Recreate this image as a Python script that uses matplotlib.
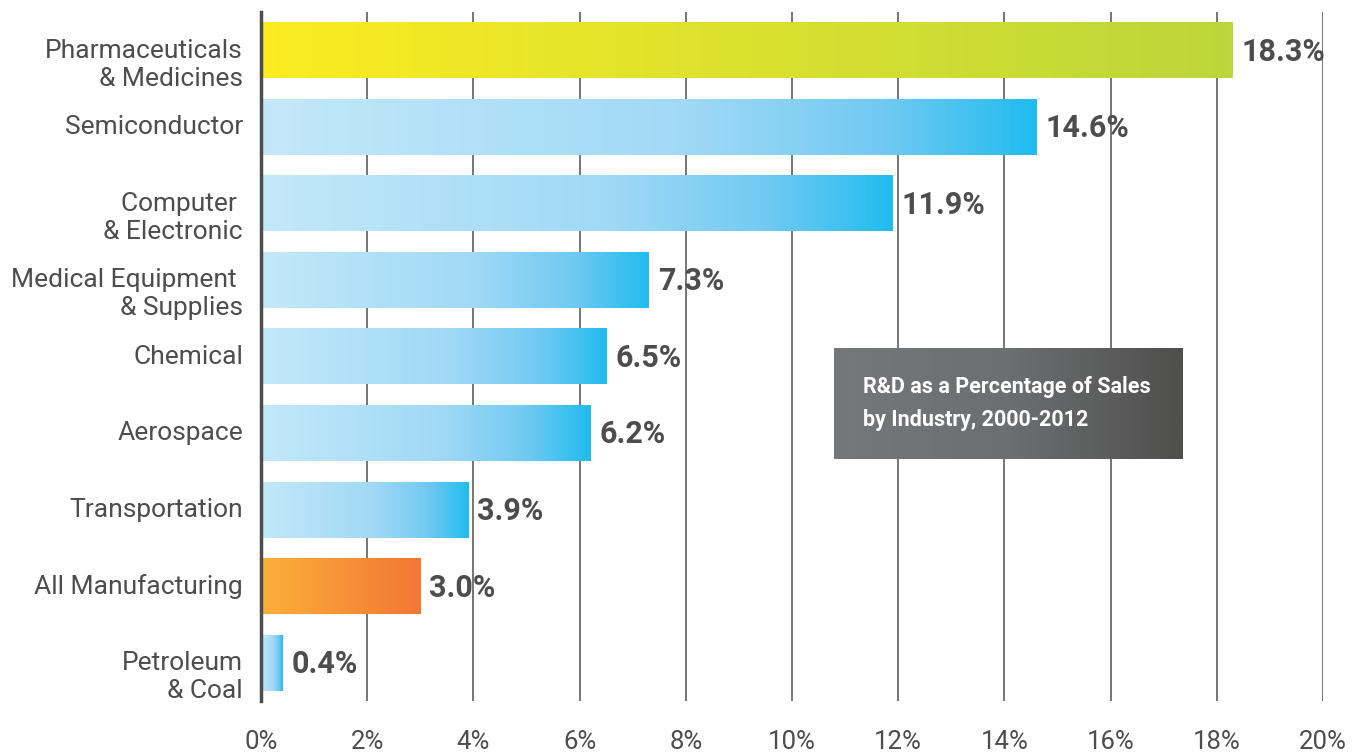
import numpy as np
import matplotlib
matplotlib.use("Agg")
import matplotlib.pyplot as plt
from matplotlib.colors import LinearSegmentedColormap
from matplotlib.transforms import blended_transform_factory, offset_copy

categories = ["Pharmaceuticals\n& Medicines", "Semiconductor", "Computer \n& Electronic",
              "Medical Equipment \n& Supplies", "Chemical", "Aerospace", "Transportation",
              "All Manufacturing", "Petroleum\n& Coal"]
values = [18.3, 14.6, 11.9, 7.3, 6.5, 6.2, 3.9, 3.0, 0.4]
value_labels = ["18.3%", "14.6%", "11.9%", "7.3%", "6.5%", "6.2%", "3.9%", "3.0%", "0.4%"]
groups = ["pharma", "blue", "blue", "blue", "blue", "blue", "blue", "orange", "blue"]
xticks = [0, 2, 4, 6, 8, 10, 12, 14, 16, 18, 20]
xtick_labels = ["0%", "2%", "4%", "6%", "8%", "10%", "12%", "14%", "16%", "18%", "20%"]
box_title = "R&D as a Percentage of Sales\nby Industry, 2000-2012"

cmaps = {
    "blue": LinearSegmentedColormap.from_list("b", [(0, "#c3e8f9"), (0.55, "#a0d9f6"),
                                                    (0.8, "#72caf2"), (1, "#22bcef")]),
    "pharma": LinearSegmentedColormap.from_list("p", ["#fcec21", "#dbe12e", "#bcd63b"]),
    "orange": LinearSegmentedColormap.from_list("o", ["#fbb03b", "#f37735"]),
}

TXT = "#4d4d4d"
plt.rcParams["font.family"] = ["Roboto", "DejaVu Sans"]

fig = plt.figure(figsize=(13.62, 7.55), dpi=100)
ax = fig.add_axes([0.1916, 0.0715, 0.7798, 0.9125])

y = np.arange(len(categories))
h = 0.73
bars = ax.barh(y, values, height=h, color="none", edgecolor="none", zorder=3)
grad = np.linspace(0, 1, 256).reshape(1, -1)
for bar, g in zip(bars, groups):
    x0, y0 = bar.get_x(), bar.get_y()
    w, hh = bar.get_width(), bar.get_height()
    ax.imshow(grad, cmap=cmaps[g], extent=(x0, x0 + w, y0 + hh, y0), aspect="auto",
              zorder=3, interpolation="bicubic")

ax.set_xlim(0, 20)
ax.set_ylim(8.5, -0.5)

for xv in xticks[1:]:
    ax.axvline(xv, color="#6a6a6a", lw=1.3, zorder=1)

for s in ["top", "right", "bottom"]:
    ax.spines[s].set_visible(False)
ax.spines["left"].set_color("#4d4d4d")
ax.spines["left"].set_linewidth(2.5)
ax.spines["left"].set_zorder(5)

ax.set_xticks(xticks)
ax.set_xticklabels(xtick_labels, fontsize=18.5, color=TXT)
ax.tick_params(axis="x", length=0, pad=21)
ax.set_yticks([])

trans = blended_transform_factory(ax.transAxes, ax.transData)
for yi, cat in zip(y, categories):
    n = cat.count("\n")
    t = offset_copy(trans, fig=fig, x=-13, y=-n * 10.3, units="points")
    ax.text(0, yi, cat, transform=t, ha="right", va="center", fontsize=19,
            color=TXT, linespacing=1.2)

for yi, v, lab in zip(y, values, value_labels):
    ax.annotate(lab, (v, yi), xytext=(6.5, -1), textcoords="offset points",
                ha="left", va="center", fontsize=22, fontweight="bold", color=TXT, zorder=6)

# title box with gray gradient
bx0, bx1, by0, by1 = 0.540, 0.868, 0.351, 0.512
gcm = LinearSegmentedColormap.from_list("g", ["#767779", "#6d6e70", "#4f4f4e"])
ax.imshow(grad, cmap=gcm, extent=(bx0, bx1, by0, by1), transform=ax.transAxes,
          aspect="auto", zorder=7)
ax.text(0.567, 0.432, box_title, transform=ax.transAxes, ha="left", va="center",
        fontsize=15.5, fontweight="bold", color="white", linespacing=1.65,
        family=["Roboto", "DejaVu Sans"], zorder=8)

ax.set_xlim(0, 20)
ax.set_ylim(8.5, -0.5)
fig.savefig("out.png", dpi=100)
